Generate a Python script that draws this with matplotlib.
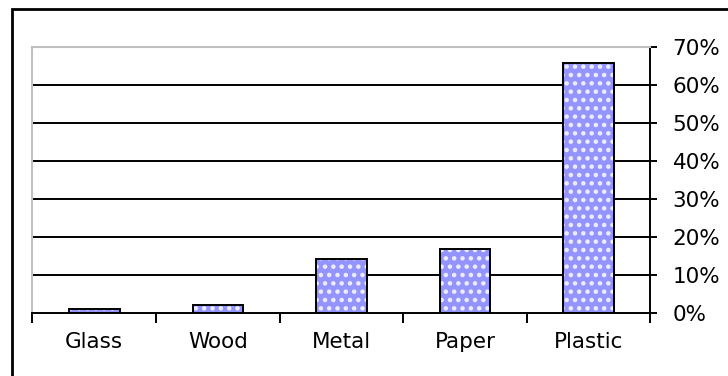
import matplotlib.pyplot as plt
from matplotlib.patches import Rectangle
from matplotlib.ticker import FixedLocator, PercentFormatter

materials = ["Glass", "Wood", "Metal", "Paper", "Plastic"]
share = [1.0, 2.0, 14.2, 16.9, 65.7]  # percent
y_ticks = [0, 10, 20, 30, 40, 50, 60, 70]

plt.rcParams["hatch.linewidth"] = 2.0

fig = plt.figure(figsize=(7.28, 3.76), dpi=100)
ax = fig.add_axes([0.0446, 0.1676, 0.8489, 0.7074])

# frame around the whole chart (runs off the right/bottom edge)
fig.patches.append(Rectangle((11.5 / 728, -0.1), 1.2, 1 - 8.5 / 376 + 0.1,
                             transform=fig.transFigure, fill=False,
                             edgecolor="black", linewidth=2, zorder=0))

pos = list(range(len(materials)))
for y in y_ticks[1:-1]:
    ax.axhline(y, color="black", linewidth=1.4, zorder=1)

# dotted blue fill, then a plain black outline on top
ax.bar(pos, share, width=0.41, color="#9494ff", edgecolor="#eeeeff",
       hatch="..", linewidth=0, zorder=2)
ax.bar(pos, share, width=0.41, fill=False, edgecolor="black",
       linewidth=1.4, zorder=3)

ax.set_xlim(-0.5, len(materials) - 0.5)
ax.set_ylim(0, 70)

ax.yaxis.tick_right()
ax.set_yticks(y_ticks)
ax.yaxis.set_major_formatter(PercentFormatter(decimals=0))
ax.tick_params(axis="y", direction="out", length=5, width=1.4, pad=11,
               labelsize=15.5, color="black")

ax.xaxis.set_major_locator(FixedLocator([p - 0.5 for p in pos] + [pos[-1] + 0.5]))
ax.xaxis.set_minor_locator(FixedLocator(pos))
ax.set_xticklabels([], minor=False)
ax.set_xticklabels(materials, minor=True)
ax.tick_params(axis="x", which="major", direction="out", length=7, width=1.4)
ax.tick_params(axis="x", which="minor", length=0, pad=14, labelsize=15.5)

ax.spines["left"].set_color("#c0c0c0")
ax.spines["top"].set_color("#c0c0c0")
ax.spines["left"].set_linewidth(1.5)
ax.spines["top"].set_linewidth(1.5)
ax.spines["right"].set_linewidth(1.4)
ax.spines["bottom"].set_linewidth(1.4)

fig.savefig("out.png", dpi=100)
